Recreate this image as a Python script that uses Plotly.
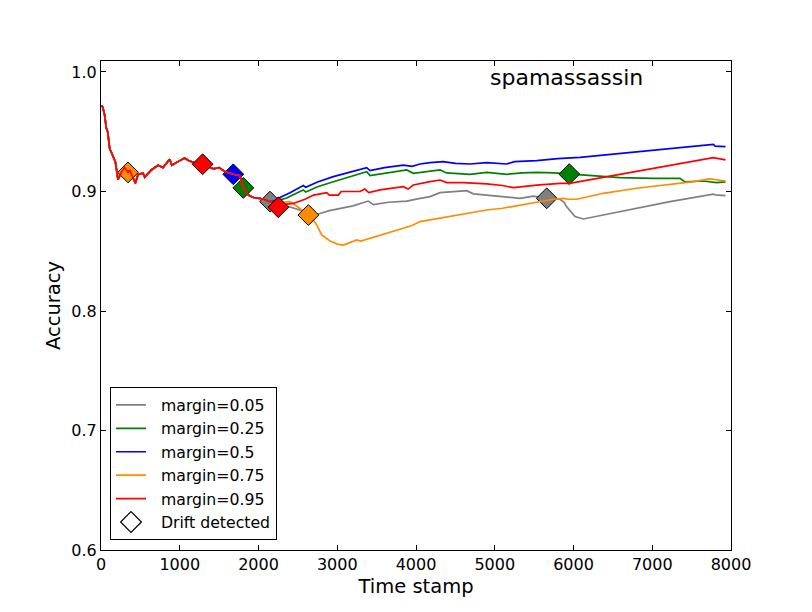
import plotly.graph_objects as go

# ---- data ----
# shared early part of all runs (identical until ~t=2150)
base_t = [10, 25, 46, 67, 85, 110, 130, 152, 182, 216, 258, 300, 343, 364, 400, 436, 470, 533, 555, 640,
          724, 787, 872, 900, 978, 1063, 1110, 1190, 1290, 1426, 1500, 1575, 1680, 1765, 1799, 1807, 1871,
          1934, 2061, 2146]
base_acc = [0.972, 0.970, 0.964, 0.953, 0.950, 0.936, 0.933, 0.929, 0.925, 0.910, 0.916, 0.920, 0.916,
            0.918, 0.912, 0.907, 0.914, 0.9155, 0.912, 0.918, 0.922, 0.920, 0.927, 0.922, 0.925, 0.928,
            0.926, 0.924, 0.9228, 0.919, 0.920, 0.9166, 0.9144, 0.9132, 0.905, 0.903, 0.897, 0.895, 0.8937,
            0.8915]

t_005 = [2250, 2400, 2550, 2650, 2760, 2900, 3035, 3200, 3394, 3460, 3650, 3882, 4051, 4178, 4305, 4500,
         4644, 4729, 4900, 5109, 5321, 5490, 5660, 5829, 5880, 5914, 5970, 6019, 6125, 6379, 6802, 7225,
         7775, 7800, 7930]
acc_005 = [0.889, 0.887, 0.884, 0.881, 0.8812, 0.884, 0.886, 0.888, 0.892, 0.889, 0.891, 0.892, 0.8943,
           0.8957, 0.899, 0.900, 0.9007, 0.898, 0.897, 0.8957, 0.8943, 0.8962, 0.8943, 0.8935, 0.891,
           0.8873, 0.883, 0.879, 0.877, 0.8803, 0.886, 0.8915, 0.8977, 0.8972, 0.8966]

t_025 = [2200, 2358, 2527, 2569, 2600, 2750, 2950, 3150, 3374, 3416, 3600, 3882, 3966, 4051, 4178, 4305,
         4390, 4686, 4898, 5152, 5350, 5533, 5750, 5946, 6041, 6379, 6590, 7013, 7352, 7416, 7648, 7818,
         7930]
acc_025 = [0.8915, 0.8946, 0.900, 0.9013, 0.8995, 0.904, 0.9082, 0.912, 0.9166, 0.9133, 0.915, 0.918,
           0.9152, 0.916, 0.917, 0.918, 0.9155, 0.9144, 0.916, 0.9144, 0.9155, 0.916, 0.9155, 0.9146,
           0.9144, 0.9132, 0.9116, 0.911, 0.911, 0.908, 0.9088, 0.9074, 0.908]

t_05 = [2200, 2273, 2400, 2527, 2569, 2600, 2750, 2950, 3150, 3374, 3416, 3600, 3839, 3950, 4051, 4178,
        4347, 4500, 4686, 4898, 5152, 5250, 5533, 5800, 6083, 6590, 7225, 7775, 7800, 7930]
acc_05 = [0.892, 0.895, 0.899, 0.9032, 0.905, 0.9035, 0.908, 0.9124, 0.916, 0.920, 0.9174, 0.920, 0.922,
          0.921, 0.923, 0.9242, 0.925, 0.9235, 0.923, 0.9242, 0.923, 0.925, 0.9258, 0.9275, 0.9286, 0.932,
          0.9361, 0.9395, 0.938, 0.9375]

t_075 = [2250, 2300, 2400, 2500, 2580, 2633, 2700, 2739, 2802, 2850, 2908, 3000, 3077, 3150, 3247, 3300,
         3416, 3550, 3755, 3950, 4051, 4178, 4474, 4700, 4898, 5100, 5321, 5550, 5744, 5871, 5940, 6041,
         6379, 6802, 7225, 7500, 7733, 7930]
acc_075 = [0.889, 0.891, 0.8915, 0.887, 0.883, 0.8803, 0.876, 0.872, 0.8636, 0.861, 0.8586, 0.856, 0.8552,
           0.857, 0.8594, 0.8585, 0.8608, 0.864, 0.8678, 0.8715, 0.8748, 0.8762, 0.8795, 0.882, 0.8845,
           0.886, 0.8887, 0.891, 0.8935, 0.8943, 0.8935, 0.8935, 0.8985, 0.9027, 0.906, 0.908, 0.9105,
           0.9088]

t_095 = [2200, 2252, 2300, 2442, 2590, 2700, 2866, 2900, 3014, 3050, 3289, 3350, 3400, 3543, 3700, 3839,
         3900, 3966, 4178, 4305, 4390, 4601, 4898, 5100, 5236, 5533, 5829, 5950, 7775, 7800, 7930]
acc_095 = [0.890, 0.8868, 0.889, 0.890, 0.8935, 0.897, 0.899, 0.897, 0.897, 0.900, 0.900, 0.902, 0.899,
           0.9013, 0.903, 0.904, 0.902, 0.9054, 0.9082, 0.9096, 0.9075, 0.9074, 0.9063, 0.905, 0.9032,
           0.9054, 0.9068, 0.9068, 0.9283, 0.928, 0.9264]

# drift detection points
drift_t = {"0.05": [2146, 5660], "0.25": [1807, 5946], "0.5": [1680], "0.75": [343, 2633], "0.95": [1290, 2252]}
drift_acc = {"0.05": [0.8915, 0.8943], "0.25": [0.903, 0.9146], "0.5": [0.9144], "0.75": [0.916, 0.8803],
             "0.95": [0.9228, 0.8868]}

margins = ["0.05", "0.25", "0.5", "0.75", "0.95"]
series_t = {"0.05": t_005, "0.25": t_025, "0.5": t_05, "0.75": t_075, "0.95": t_095}
series_acc = {"0.05": acc_005, "0.25": acc_025, "0.5": acc_05, "0.75": acc_075, "0.95": acc_095}
colors = {"0.05": "#808080", "0.25": "#008000", "0.5": "#0000ff", "0.75": "#ff8c00", "0.95": "#ff0000"}

x_ticks = [0, 1000, 2000, 3000, 4000, 5000, 6000, 7000, 8000]
y_ticks = [0.6, 0.7, 0.8, 0.9, 1.0]

FONT = "DejaVu Sans"
PAD = "\u00a0\u00a0"

fig = go.Figure()
for i, m in enumerate(margins):
    fig.add_trace(go.Scatter(
        x=base_t + series_t[m], y=base_acc + series_acc[m], mode="lines",
        name=f"{PAD}margin={m}", line=dict(color=colors[m], width=1.7),
        legendgroup=f"g{i}"))
    fig.add_trace(go.Scatter(
        x=drift_t[m], y=drift_acc[m], mode="markers", showlegend=False,
        marker=dict(symbol="diamond", size=16, color=colors[m], line=dict(color="black", width=1))))

fig.add_trace(go.Scatter(
    x=[None], y=[None], mode="markers", name=f"{PAD}Drift detected", legendgroup="g9",
    marker=dict(symbol="diamond", size=16, color="white", line=dict(color="black", width=1.2))))

fig.add_annotation(text="spamassassin", xref="paper", yref="paper", x=0.614, y=0.967,
                   xanchor="left", yanchor="middle", showarrow=False,
                   font=dict(family=FONT, size=22, color="black"))

axis_common = dict(showline=True, linecolor="black", linewidth=1, mirror="ticks", ticks="inside",
                   ticklen=5, tickwidth=1, tickcolor="black", showgrid=False, zeroline=False,
                   tickfont=dict(family=FONT, size=16, color="black"))

fig.update_xaxes(range=[0, 8000], tickvals=x_ticks, ticktext=[str(v) for v in x_ticks],
                 title=dict(text="Time stamp", font=dict(family=FONT, size=19.5, color="black"), standoff=6),
                 **axis_common)
fig.update_yaxes(range=[0.6, 1.0092], tickvals=y_ticks, ticktext=[f"{v:.1f}" for v in y_ticks],
                 title=dict(text="Accuracy", font=dict(family=FONT, size=19.5, color="black"), standoff=5),
                 **axis_common)

# page body has an 8px margin, so the figure is 8px smaller on each side
fig.update_layout(
    width=804, height=604,
    margin=dict(l=93, r=81, t=53, b=62),
    paper_bgcolor="white", plot_bgcolor="white",
    font=dict(family=FONT, color="black"),
    legend=dict(x=0.0143, y=0.02, xanchor="left", yanchor="bottom",
                bordercolor="black", borderwidth=1, bgcolor="white",
                font=dict(family=FONT, size=15.7, color="black"),
                tracegroupgap=0, traceorder="normal"),
)

fig.write_html("out.html")
